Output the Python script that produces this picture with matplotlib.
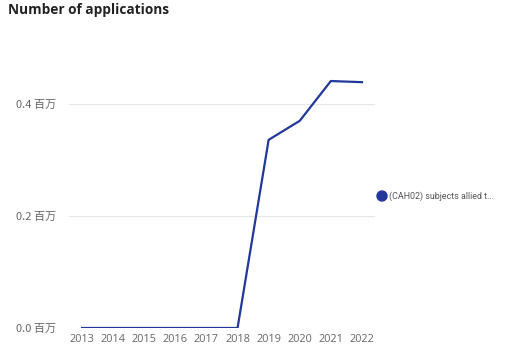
import matplotlib
matplotlib.use("Agg")
import matplotlib.pyplot as plt

years = [2013, 2014, 2015, 2016, 2017, 2018, 2019, 2020, 2021, 2022]
values = [0.0, 0.0, 0.0, 0.0, 0.0, 0.0, 0.336, 0.370, 0.441, 0.439]
series_name = "(CAH02) subjects allied t..."
yticks = [0.0, 0.2, 0.4]
ytick_labels = ["0.0 百万", "0.2 百万", "0.4 百万"]
title = "Number of applications"

fam = ["Open Sans", "Noto Sans CJK SC", "DejaVu Sans"]
plt.rcParams['font.family'] = fam

fig = plt.figure(figsize=(5.21, 3.52), dpi=100)
ax = fig.add_axes([69/521, (352-328)/352, (375-69)/521, (328-48)/352])
color = "#22389a"
ax.plot(years, values, color=color, lw=1.6, solid_joinstyle='miter')
ax.set_xlim(2012.58, 2022.42)
ax.set_ylim(0, 0.5)
ax.set_yticks(yticks)
ax.set_yticklabels(ytick_labels)
ax.set_xticks(years)
ax.set_xticklabels([str(y) for y in years])
for s in ax.spines.values():
    s.set_visible(False)
ax.grid(axis='y', color="#e6e6e6", lw=0.8)
ax.set_axisbelow(True)
ax.tick_params(length=0, labelsize=7.8, colors="#666666", pad=4)
ax.tick_params(axis='y', pad=9, labelsize=8)
for lab in ax.get_yticklabels():
    lab.set_family(["Noto Sans CJK SC", "DejaVu Sans"])

fig.text(8/521, 1 - 10/352, title, fontsize=9.8, fontweight='bold', color="#222222", va='center', ha='left')

fig.patches.append(matplotlib.patches.Ellipse((382/521, 1-196/352), 10/521, 10/352, transform=fig.transFigure, color=color))
fig.text(389/521, 1-196/352, series_name, fontsize=6.4, family=["Roboto", "DejaVu Sans"], color="#555555", va='center', ha='left')

fig.savefig("out.png", dpi=100, facecolor="white")
